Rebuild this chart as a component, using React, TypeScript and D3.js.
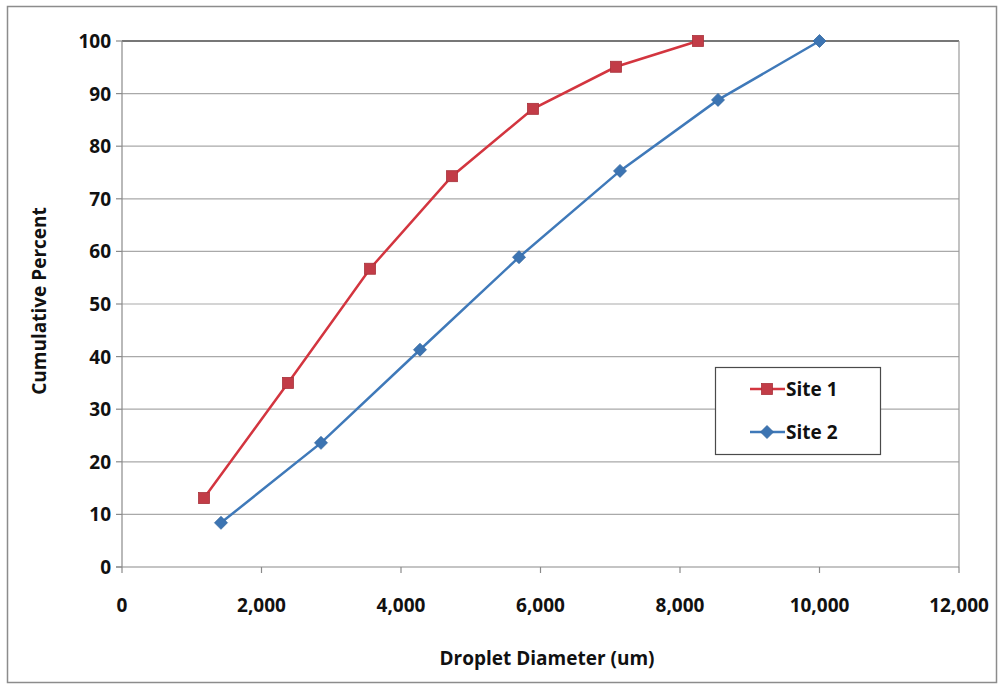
import React from "react";
import * as d3 from "d3";

const site1X = [1176, 2380, 3556, 4731, 5892, 7082, 8258];
const site1Y = [13.1, 35.0, 56.7, 74.3, 87.1, 95.1, 100];
const site2X = [1419, 2853, 4272, 5692, 7140, 8545, 10000];
const site2Y = [8.4, 23.6, 41.3, 58.9, 75.3, 88.8, 100];
const xTicks = [0, 2000, 4000, 6000, 8000, 10000, 12000];
const yTicks = [0, 10, 20, 30, 40, 50, 60, 70, 80, 90, 100];
const seriesNames = ["Site 1", "Site 2"];

const W = 1001;
const H = 684;
const left = 122;
const right = 959;
const top = 41;
const bottom = 567;
const font = "'Open Sans', 'Liberation Sans', Arial, sans-serif";
const fs = 19;
const red = "#d3353f";
const redFill = "#c23c47";
const blue = "#3f79b9";
const blueFill = "#3c74b2";

export default function App() {
  const x = d3.scaleLinear().domain([0, 12000]).range([left, right]);
  const y = d3.scaleLinear().domain([0, 100]).range([bottom, top]);
  const fmt = d3.format(",");
  const line = d3
    .line<[number, number]>()
    .x((d) => x(d[0]))
    .y((d) => y(d[1]));
  const s1 = site1X.map((v, i) => [v, site1Y[i]] as [number, number]);
  const s2 = site2X.map((v, i) => [v, site2Y[i]] as [number, number]);

  const sq = 11;
  const dm = 6.5;
  const diamond = (cx: number, cy: number) =>
    `M${cx},${cy - dm}L${cx + dm},${cy}L${cx},${cy + dm}L${cx - dm},${cy}Z`;

  const legX = 715;
  const legY = 367;
  const legW = 165;
  const legH = 87;

  return (
    <svg
      width={W}
      height={H}
      style={{ position: "absolute", left: 0, top: 0, background: "#fff" }}
      fontFamily={font}
    >
      <rect x={0} y={0} width={W} height={H} fill="#fff" />
      <rect x={7.5} y={6.5} width={989} height={676} fill="#fff" stroke="#8c8c8c" strokeWidth={1.5} />

      {/* horizontal gridlines and y ticks */}
      {yTicks.map((t) => (
        <g key={"y" + t}>
          {t > 0 && (
            <line x1={left} x2={right} y1={y(t)} y2={y(t)} stroke={t === 100 ? "#4a4a4a" : "#a9a9a9"} strokeWidth={t === 100 ? 1.5 : 1.2} />
          )}
          <line x1={left - 6} x2={left} y1={y(t)} y2={y(t)} stroke="#8a8a8a" strokeWidth={1.2} />
          <text
            x={left - 11}
            y={y(t)}
            textAnchor="end"
            dominantBaseline="central"
            fontSize={fs}
            fontWeight="bold"
            fill="#111"
          >
            {t}
          </text>
        </g>
      ))}

      {/* right plot border */}
      <line x1={right} x2={right} y1={top} y2={bottom} stroke="#9a9a9a" strokeWidth={1.2} />

      {/* axes */}
      <line x1={left} x2={left} y1={top} y2={bottom} stroke="#8a8a8a" strokeWidth={1.2} />
      <line x1={left - 6} x2={right} y1={bottom} y2={bottom} stroke="#8a8a8a" strokeWidth={1.2} />
      {xTicks.map((t) => (
        <g key={"x" + t}>
          <line x1={x(t)} x2={x(t)} y1={bottom} y2={bottom + 6} stroke="#8a8a8a" strokeWidth={1.2} />
          <text
            x={x(t)}
            y={bottom + 45}
            textAnchor="middle"
            fontSize={fs}
            fontWeight="bold"
            fill="#111"
          >
            {fmt(t)}
          </text>
        </g>
      ))}

      {/* axis titles */}
      <text
        x={547}
        y={665}
        textAnchor="middle"
        fontSize={fs}
        fontWeight="bold"
        fill="#111"
      >
        Droplet Diameter (um)
      </text>
      <text
        transform={`translate(46,${(top + bottom) / 2 - 3}) rotate(-90)`}
        textAnchor="middle"
        fontSize={fs}
        fontWeight="bold"
        fill="#111"
      >
        Cumulative Percent
      </text>

      {/* series */}
      <path d={line(s2) ?? ""} fill="none" stroke={blue} strokeWidth={2.5} />
      {s2.map((d, i) => (
        <path key={"b" + i} d={diamond(x(d[0]), y(d[1]))} fill={blueFill} stroke="#35689f" strokeWidth={0.8} />
      ))}
      <path d={line(s1) ?? ""} fill="none" stroke={red} strokeWidth={2.5} />
      {s1.map((d, i) => (
        <rect
          key={"r" + i}
          x={x(d[0]) - sq / 2}
          y={y(d[1]) - sq / 2}
          width={sq}
          height={sq}
          fill={redFill}
          stroke="#a8323b"
          strokeWidth={0.8}
        />
      ))}

      {/* legend */}
      <rect x={legX + 0.5} y={legY + 0.5} width={legW} height={legH} fill="#fff" stroke="#4a4a4a" strokeWidth={1.2} />
      {seriesNames.map((name, i) => {
        const cy = legY + 22 + i * 43;
        const cx = legX + 52;
        return (
          <g key={name}>
            <line x1={legX + 35} x2={legX + 70} y1={cy} y2={cy} stroke={i === 0 ? red : blue} strokeWidth={2.5} />
            {i === 0 ? (
              <rect x={cx - sq / 2} y={cy - sq / 2} width={sq} height={sq} fill={redFill} stroke="#a8323b" strokeWidth={0.8} />
            ) : (
              <path d={diamond(cx, cy)} fill={blueFill} stroke="#35689f" strokeWidth={0.8} />
            )}
            <text x={legX + 71} y={cy} dominantBaseline="central" fontSize={fs} fontWeight="bold" fill="#111">
              {name}
            </text>
          </g>
        );
      })}
    </svg>
  );
}
